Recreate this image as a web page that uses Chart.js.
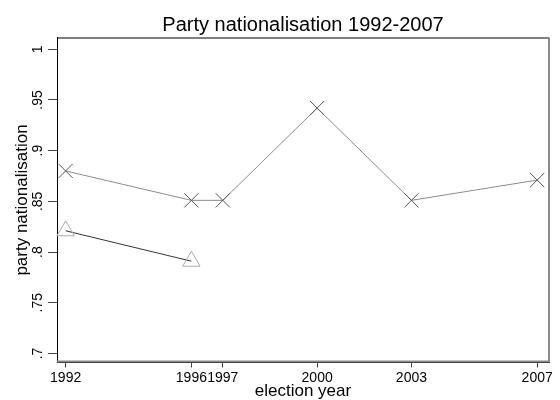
<!DOCTYPE html>
<html>
<head>
<meta charset="utf-8">
<script src="https://cdn.jsdelivr.net/npm/chart.js@4/dist/chart.umd.min.js"></script>
<style>
  html, body { margin: 0; padding: 0; background: #fff; }
  #wrap { width: 560px; height: 400px; }
</style>
</head>
<body>
<div id="wrap"><canvas id="chart" width="560" height="400"></canvas></div>
<script>
// ── Data ───────────────────────────────────────────────────────────────────
const crossYears  = [1992, 1996, 1997, 2000, 2003, 2007]
const crossValues = [0.880, 0.851, 0.851, 0.942, 0.851, 0.871]

const triYears  = [1992, 1996]
const triValues = [0.821, 0.791]

const xTicks = [1992, 1996, 1997, 2000, 2003, 2007]
const yTicks = [0.7, 0.75, 0.8, 0.85, 0.9, 0.95, 1]

const FONT = "'Liberation Sans', Arial, sans-serif"

// top and right edges of the plot frame
const frame = {
  id: "frame",
  afterDraw(chart) {
    const { ctx, chartArea: a } = chart
    ctx.save()
    ctx.lineWidth = 1
    ctx.strokeStyle = "#000"
    ctx.beginPath()
    ctx.moveTo(a.left, a.top + 0.5)
    ctx.lineTo(a.right, a.top + 0.5)
    ctx.stroke()
    ctx.lineWidth = 2
    ctx.strokeStyle = "#8a8a8a"
    ctx.beginPath()
    ctx.moveTo(a.right, a.top)
    ctx.lineTo(a.right, a.bottom - 1)
    ctx.lineTo(a.left, a.bottom - 1)
    ctx.stroke()
    ctx.restore()
  }
}

new Chart(document.getElementById("chart"), {
  type: "line",
  data: {
    datasets: [
      {
        data: crossYears.map((x, i) => ({ x, y: crossValues[i] })),
        borderColor: "#8c8c8c",
        borderWidth: 1,
        pointStyle: "crossRot",
        pointRadius: 10,
        pointBorderColor: "#555",
        pointBorderWidth: 1,
        fill: false,
        clip: false
      },
      {
        data: triYears.map((x, i) => ({ x, y: triValues[i] })),
        borderColor: "#333",
        borderWidth: 1,
        pointStyle: "triangle",
        pointRadius: 10,
        pointBorderColor: "#aaa",
        pointBackgroundColor: "rgba(0,0,0,0)",
        pointBorderWidth: 1,
        fill: false,
        clip: false
      }
    ]
  },
  options: {
    responsive: false,
    animation: false,
    layout: { padding: { left: 0, right: 3, top: 0, bottom: 0 } },
    plugins: {
      legend: { display: false },
      tooltip: { enabled: false },
      title: {
        display: true,
        text: "Party nationalisation 1992-2007",
        fullSize: false,
        color: "#000",
        font: { family: FONT, size: 20, weight: "normal", lineHeight: 1.2 },
        padding: { top: 13, bottom: 0.5 }
      }
    },
    scales: {
      x: {
        type: "linear",
        min: 1991.725,
        max: 2007.376,
        afterBuildTicks: s => { s.ticks = xTicks.map(v => ({ value: v })) },
        afterFit: s => { s.height = 37.5 },
        grid: { display: true, drawOnChartArea: false, drawTicks: true, tickLength: 5, tickColor: "#444" },
        border: { display: true, color: "#000", width: 1 },
        ticks: {
          color: "#000",
          padding: 2,
          maxRotation: 0,
          font: { family: FONT, size: 14 },
          callback: v => String(v)
        },
        title: {
          display: true,
          text: "election year",
          color: "#000",
          font: { family: FONT, size: 17, lineHeight: 1 },
          padding: { top: 0, bottom: 0 }
        }
      },
      y: {
        type: "linear",
        min: 0.6911,
        max: 1.0116,
        afterBuildTicks: s => { s.ticks = yTicks.map(v => ({ value: v })) },
        afterFit: s => { s.width = 57 },
        grid: { display: true, drawOnChartArea: false, drawTicks: true, tickLength: 9, tickColor: "#444" },
        border: { display: true, color: "#000", width: 1 },
        ticks: {
          color: "#000",
          padding: 0,
          minRotation: 90,
          maxRotation: 90,
          crossAlign: "center",
          font: { family: FONT, size: 14 },
          callback: v => String(v).replace(/^0\./, ".")
        },
        title: {
          display: true,
          text: "party nationalisation",
          color: "#000",
          font: { family: FONT, size: 17, lineHeight: 1.2 },
          padding: { top: 12, bottom: 0 }
        }
      }
    }
  },
  plugins: [frame]
})
</script>
</body>
</html>
